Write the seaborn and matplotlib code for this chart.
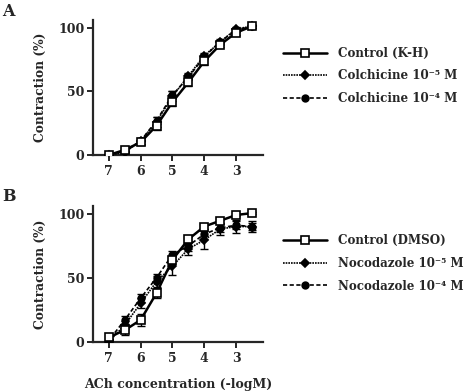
import numpy as np
import pandas as pd
import matplotlib
matplotlib.use("Agg")
import matplotlib.pyplot as plt
from matplotlib.lines import Line2D
import seaborn as sns

# ---- data ----
log_conc = [7, 6.5, 6, 5.5, 5, 4.5, 4, 3.5, 3, 2.5]
xticks = [7, 6, 5, 4, 3]
yticks = [0, 50, 100]

# Panel A
ctrl_kh = [0, 4, 10, 23, 41.5, 57, 73.5, 86.5, 96, 101]
ctrl_kh_err = [1, 1.5, 2, 3, 3, 2.5, 2.5, 2, 1.5, 1]
colch5 = [0, 2, 11, 26, 46, 62, 78, 88.5, 99, 101]
colch5_err = [1, 1.5, 2, 4, 4, 2.5, 2, 2, 1.5, 1]
colch4 = [0, 3, 11, 27, 47, 61, 77, 89, 98, 101]
colch4_err = [1, 1.5, 2, 3, 3, 2.5, 2, 2, 1.5, 1]

# Panel B
ctrl_dmso = [3.5, 9, 17, 38, 64, 80, 90, 94.5, 99, 100.5]
ctrl_dmso_err = [1.5, 4, 5, 4, 3, 2, 2, 1.5, 1, 1]
noco5 = [0, 13, 30, 47, 59, 72.5, 79.5, 88, 90, 90]
noco5_err = [1.5, 3, 4, 4, 7, 5, 7, 5, 5, 4]
noco4 = [1, 17, 34, 50, 68, 75, 84, 89, 91, 90]
noco4_err = [1.5, 3, 3, 3, 3, 4, 4, 3, 3, 3]

labels_A = ["Control (K-H)", "Colchicine 10\u207b\u2075 M", "Colchicine 10\u207b\u2074 M"]
labels_B = ["Control (DMSO)", "Nocodazole 10\u207b\u2075 M", "Nocodazole 10\u207b\u2074 M"]

sns.set_style("ticks")
plt.rcParams['font.family'] = ['DejaVu Serif']
plt.rcParams['font.weight'] = 'bold'
plt.rcParams['axes.labelweight'] = 'bold'

fig = plt.figure(figsize=(4.74, 3.91), dpi=100)
axA = fig.add_axes([0.196, 0.6036, 0.359, 0.3454])
axB = fig.add_axes([0.196, 0.126, 0.359, 0.347])

styles = [
    dict(marker='s', linestyle='-', mfc='white', lw=1.8, ms=5.2),
    dict(marker='D', linestyle=(0, (1, 0.6)), mfc='black', lw=1.2, ms=4.2),
    dict(marker='o', linestyle=(0, (2.5, 1.5)), mfc='black', lw=1.2, ms=4.8),
]

def draw(ax, series, errs, labels, legend_y):
    handles = []
    order = [2, 1, 0]
    for i in order:
        st = styles[i]
        sns.lineplot(x=log_conc, y=series[i], ax=ax, color='black',
                     marker=st['marker'], linestyle=st['linestyle'],
                     markerfacecolor=st['mfc'], markeredgecolor='black',
                     markeredgewidth=1.2, markersize=st['ms'], lw=st['lw'],
                     errorbar=None, zorder=3 + (3 - i))
        ax.errorbar(log_conc, series[i], yerr=errs[i], fmt='none',
                    ecolor='black', elinewidth=1.0, capsize=3, capthick=1.0,
                    zorder=2)
    for i in range(3):
        st = styles[i]
        handles.append(Line2D([], [], color='black', marker=st['marker'],
                              linestyle=st['linestyle'], lw=st['lw'],
                              markerfacecolor=st['mfc'], markeredgecolor='black',
                              markeredgewidth=1.2, markersize=st['ms']))
    ax.set_xlim(7.5, 2.15)
    ax.set_ylim(0, 106)
    ax.set_xticks(xticks)
    ax.set_xticklabels([str(t) for t in xticks])
    ax.set_yticks(yticks)
    ax.set_yticklabels([str(t) for t in yticks])
    for s in ['top', 'right']:
        ax.spines[s].set_visible(False)
    for s in ['left', 'bottom']:
        ax.spines[s].set_linewidth(1.6)
    ax.tick_params(direction='out', length=4, width=1.4, labelsize=9)
    ax.tick_params(axis='x', pad=3.5)
    ax.tick_params(axis='y', pad=2)
    for lbl in ax.get_xticklabels() + ax.get_yticklabels():
        lbl.set_fontweight('bold')
    ax.set_ylabel("Contraction (%)", fontsize=8.8, fontweight='bold', labelpad=8)
    leg = fig.legend(handles, labels, loc='upper left',
                     bbox_to_anchor=(0.575, legend_y), frameon=False,
                     handlelength=3.7, handletextpad=0.9, labelspacing=0.8,
                     prop=dict(size=8.6, weight='bold', family='DejaVu Serif'))
    return leg

draw(axA, [ctrl_kh, colch5, colch4], [ctrl_kh_err, colch5_err, colch4_err],
     labels_A, 0.908)
draw(axB, [ctrl_dmso, noco5, noco4], [ctrl_dmso_err, noco5_err, noco4_err],
     labels_B, 0.428)
axA.set_xlabel("")
axB.set_xlabel("ACh concentration (-logM)", fontsize=9, fontweight='bold', labelpad=9)

fig.text(0.004, 0.992, "A", fontsize=11.5, fontweight='bold', va='top', ha='left')
fig.text(0.004, 0.518, "B", fontsize=11.5, fontweight='bold', va='top', ha='left')

fig.savefig("out.png", dpi=100)
